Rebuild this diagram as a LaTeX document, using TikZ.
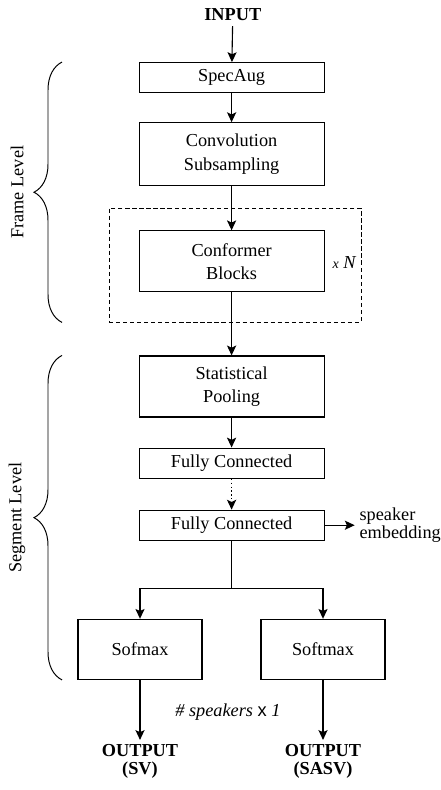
\documentclass[tikz,border=0pt]{standalone}
\usepackage{fontspec}
\setmainfont{Liberation Serif}
\setsansfont{Liberation Sans}
\newfontfamily\timesfont{Liberation Serif}
\usepackage{tikz}
\usetikzlibrary{positioning, calc, arrows.meta, decorations.pathreplacing}
\tikzstyle{layer} = [rectangle, minimum width=4.625cm, minimum height=1.525cm, text centered, align=center, draw=black, line width=0.8pt, font=\timesfont\fontsize{13}{16.5}\selectfont]
\tikzstyle{thinlayer} = [layer, minimum height=0.75cm]
\tikzstyle{softmax} = [layer, minimum width=3.1cm, minimum height=1.5cm]
\tikzstyle{repeatbox} = [rectangle, draw=black, line width=0.6pt, dash pattern=on 3pt off 2pt, minimum width=6.3cm, minimum height=2.85cm]
\tikzstyle{outlabel} = [align=center, font=\timesfont\bfseries\fontsize{13}{12.5}\selectfont]
\tikzstyle{level} = [rotate=90]
\tikzstyle{levelbrace} = [decorate, decoration={brace, amplitude=0.7cm}, line width=0.7pt]
\tikzstyle{arrow} = [line width=0.8pt,->,>={Stealth[length=7pt, width=6.5pt, inset=1.5pt]}]
\tikzstyle{every node}=[font=\timesfont\fontsize{13}{13}\selectfont]

\begin{document}
\begin{tikzpicture}[node distance=0.75cm]
	\useasboundingbox (0,0) rectangle (11,-19.75);
	\node (input) at (5.82,-0.375) {\textbf{INPUT}};
	\node (spec) [thinlayer] at (5.79,-1.94) {SpecAug};
	\node (conv) [layer, minimum height=1.575cm, below=0.725cm of spec] {Convolution\\Subsampling};
	\node (conf) [layer, below=1.1cm of conv] {Conformer\\Blocks};
	\node (reps) [repeatbox] at (5.875,-6.625) {};
	\node (times) [anchor=east] at ([yshift=0.05cm]reps.east) {{\fontsize{10}{10}\selectfont\itshape x} \textit{N}};
	\node (pool) [layer, below=1.575cm of conf] {Statistical\\Pooling};
	\node (fc1) [thinlayer, below=0.75cm of pool] {Fully Connected};
	\node (fc2) [thinlayer, below=0.775cm of fc1] {Fully Connected};
	\node (emb) [right=0.75cm of fc2, align=left] {speaker\\embedding};
	\coordinate (split) at ($(fc2.south)+(0,-1.2)$);
	
	\node (sm1) [softmax, below=1.95cm of fc2, xshift=-2.29cm] {Sofmax};
	\node (sm2) [softmax, below=1.95cm of fc2, xshift=2.285cm] {Softmax};
	\node (out1) [outlabel, below=1.5cm of sm1] {OUTPUT\\(SV)};
	\node (out2) [outlabel, below=1.5cm of sm2] {OUTPUT\\(SASV)};
	\node (count) at ($(sm1.south)!0.5!(sm2.south)+(-0.09,-0.8)$) {\textit{\# speakers} {\sffamily x} \textit{1}};
	
	%braces on the left
	\coordinate (bx) at (1.55,0);
	\draw [levelbrace] (reps.south -| bx) -- (spec.north -| bx);
	\draw [levelbrace] (sm1.south -| bx) -- (pool.north -| bx);
	\node (frame) [level] at ($(reps.south -| bx)!0.5!(spec.north -| bx)+(-1.125,0)$) {Frame Level};
	\node (segment) [level] at ($(sm1.south -| bx)!0.5!(pool.north -| bx)+(-1.125,0)$) {Segment Level};
	
	%connectors
	\draw [arrow](input) -- (spec);
	\draw [arrow](spec) -- (conv);
	\draw [arrow](conv) -- (conf);
	\draw [arrow](conf) -- (pool);
	\draw [arrow](pool) -- (fc1);
	\draw [arrow, dotted](fc1) -- (fc2);
	\draw [arrow](fc2) -- (emb);
	\draw [line width=0.8pt](fc2) -- (split);
	\draw [arrow](split) -| (sm1);
	\draw [arrow](split) -| (sm2);
	\draw [arrow](sm1) -- (out1);
	\draw [arrow](sm2) -- (out2);
\end{tikzpicture}
\end{document}
